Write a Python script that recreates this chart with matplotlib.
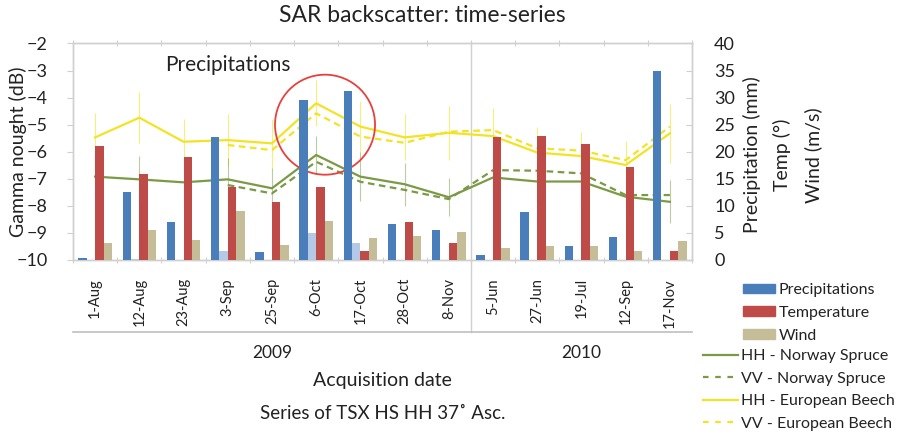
import matplotlib
matplotlib.use("Agg")
import matplotlib.pyplot as plt
from matplotlib.patches import Patch, Ellipse
from matplotlib.lines import Line2D
import matplotlib.transforms as mtransforms
import numpy as np

plt.rcParams['font.family'] = ['Lato', 'DejaVu Sans']

# Acquisition dates
dates = ["1-Aug", "12-Aug", "23-Aug", "3-Sep", "25-Sep", "6-Oct", "17-Oct", "28-Oct",
         "8-Nov", "5-Jun", "27-Jun", "19-Jul", "12-Sep", "17-Nov"]
years = ["2009", "2010"]
n_2009 = 9

# Meteo (right axis)
precip = [0.3, 12.5, 7.0, 22.7, 1.5, 29.6, 31.3, 6.6, 5.6, 0.9, 8.9, 2.5, 4.3, 34.9]
precip_extra = [0, 0.2, 0, 1.75, 0, 4.9, 3.1, 0, 0, 0, 0, 0, 0, 0]
temperature = [21.1, 15.85, 19.0, 13.4, 10.75, 13.4, 1.6, 7.1, 3.2, 22.8, 22.9, 21.5, 17.2, 1.7]
wind = [3.1, 5.5, 3.65, 9.1, 2.75, 7.15, 4.0, 4.4, 5.2, 2.3, 2.65, 2.6, 1.65, 3.5]

# Backscatter (left axis, dB)
hh_spruce = [-6.92, -7.02, -7.13, -7.02, -7.35, -6.12, -6.92, -7.20, -7.68, -6.95, -7.10, -7.10, -7.66, -7.85]
vv_spruce = [np.nan, np.nan, np.nan, -7.23, -7.54, -6.37, -7.11, -7.41, -7.75, -6.68, -6.70, -6.80, -7.60, -7.60]
hh_beech = [-5.47, -4.74, -5.63, -5.57, -5.69, -4.21, -5.07, -5.47, -5.30, -5.42, -6.03, -6.16, -6.49, -5.32]
vv_beech = [np.nan, np.nan, np.nan, -5.75, -5.94, -4.58, -5.44, -5.67, -5.26, -5.20, -5.87, -5.96, -6.31, -5.07]
spruce_err = [0.8, 0.85, 0.8, 0.8, 0.75, 0.7, 0.9, 0.8, 0.7, 0.8, 0.75, 0.8, 0.7, 0.8]
beech_err = [0.9, 0.95, 0.85, 0.95, 0.9, 0.85, 0.95, 0.85, 1.0, 1.05, 0.95, 0.9, 0.9, 1.1]

C_BLUE = "#4a7ebb"
C_LBLUE = "#b4c9e6"
C_RED = "#be4b48"
C_TAN = "#c4bd97"
C_GREEN = "#7a9a45"
C_YELLOW = "#f2e424"
C_AXIS = "#d0d0d0"
C_TEXT = "#222222"

W, H = 898, 436
fig = plt.figure(figsize=(W / 100, H / 100), dpi=100)
x0, x1, ytop, ybot = 73, 692, 43.5, 260
ax = fig.add_axes([x0 / W, 1 - ybot / H, (x1 - x0) / W, (ybot - ytop) / H])
ax2 = ax.twinx()

x = np.arange(len(dates))

# Backscatter lines with error bars
ax.errorbar(x, hh_beech, yerr=beech_err, fmt="none", ecolor=C_YELLOW, elinewidth=0.8,
            alpha=0.6, capsize=0, zorder=1)
ax.errorbar(x, hh_spruce, yerr=spruce_err, fmt="none", ecolor=C_GREEN, elinewidth=0.8,
            alpha=0.5, capsize=0, zorder=1)
ax.plot(x, hh_spruce, color=C_GREEN, lw=1.6, zorder=2)
ax.plot(x, vv_spruce, color=C_GREEN, lw=1.6, ls=(0, (3, 2)), zorder=2)
ax.plot(x, hh_beech, color=C_YELLOW, lw=1.6, zorder=2)
ax.plot(x, vv_beech, color=C_YELLOW, lw=1.6, ls=(0, (3, 2)), zorder=2)

ax.set_xlim(-0.5, len(dates) - 0.5)
ax.set_ylim(-10, -2)
ax.set_yticks(np.arange(-10, -1, 1))

# Meteo bars
bw = 0.19
ax2.bar(x - 1.5 * bw, precip, width=bw, color=C_BLUE, zorder=3)
ax2.bar(x - 0.5 * bw, precip_extra, width=bw, color=C_LBLUE, zorder=3)
ax2.bar(x + 0.5 * bw, temperature, width=bw, color=C_RED, zorder=3)
ax2.bar(x + 1.5 * bw, wind, width=bw, color=C_TAN, zorder=3)
ax2.set_ylim(0, 40)
ax2.set_yticks(np.arange(0, 41, 5))

for a in (ax, ax2):
    for s in a.spines.values():
        s.set_color(C_AXIS)
        s.set_linewidth(1.0)
ax.tick_params(axis="y", length=4, color=C_AXIS, labelsize=13, labelcolor=C_TEXT, pad=14)
ax2.tick_params(axis="y", length=4, direction="in", color=C_AXIS, labelsize=13,
                labelcolor=C_TEXT, pad=16)

# category boundaries as ticks, labels at centres
ax.set_xticks(np.arange(-0.5, len(dates), 1))
ax.set_xticklabels([])
ax.tick_params(axis="x", which="major", length=4, color=C_AXIS, top=True, direction="inout")
ax.set_xticks(x, minor=True)
ax.set_xticklabels(dates, minor=True, rotation=90, fontsize=10.5, color=C_TEXT)
ax.tick_params(axis="x", which="minor", length=0, pad=13)

# year divider and lower bracket
trans = mtransforms.blended_transform_factory(ax.transData, ax.transAxes)
low = -(332 - ybot) / (ybot - ytop)
ax.add_line(Line2D([n_2009 - 0.5] * 2, [low, 1], transform=trans, color=C_AXIS, lw=1.0,
                   clip_on=False, zorder=0))
ax.add_line(Line2D([-0.5, len(dates) - 0.5], [low, low], transform=trans, color="#bfbfbf",
                   lw=1.2, clip_on=False))
ax.text((n_2009 - 1) / 2, -(353 - ybot) / (ybot - ytop), years[0], transform=trans,
        ha="center", va="center", fontsize=12.5, color=C_TEXT)
ax.text((n_2009 + len(dates) - 1) / 2, -(353 - ybot) / (ybot - ytop), years[1], transform=trans,
        ha="center", va="center", fontsize=12.5, color=C_TEXT)

# labels
fig.text(0.5 * (x0 + x1) / W, 1 - 380 / H, "Acquisition date", ha="center", va="center",
         fontsize=14, color=C_TEXT)
fig.text(0.5 * (x0 + x1) / W, 1 - 413 / H, "Series of TSX HS HH 37˚ Asc.", ha="center",
         va="center", fontsize=13.5, color=C_TEXT)
fig.text(422 / W, 1 - 16 / H, "SAR backscatter: time-series", ha="center", va="center",
         fontsize=16.5, color=C_TEXT)
fig.text(18 / W, 1 - 152 / H, "Gamma nought (dB)", rotation=90, ha="center", va="center",
         fontsize=14, color=C_TEXT)
for xp, lab in [(752, "Precipitation (mm)"), (782, "Temp (°)"), (813, "Wind (m/s)")]:
    fig.text(xp / W, 1 - 155 / H, lab, rotation=90, ha="center", va="center", fontsize=14,
             color=C_TEXT)

# annotation
ax.text(3.0, -2.8, "Precipitations", ha="center", va="center", fontsize=15, color=C_TEXT)
ax.add_patch(Ellipse((5.2, -5.0), width=100 / 44.2, height=100 / 27.06, fill=False,
                     edgecolor="#e8403a", lw=1.3, zorder=5))

# legends
bar_handles = [Patch(color=C_BLUE), Patch(color=C_RED), Patch(color=C_TAN)]
leg1 = fig.legend(bar_handles, ["Precipitations", "Temperature", "Wind"], loc="upper left",
                  bbox_to_anchor=(743 / W, 1 - 283 / H), frameon=False, fontsize=11.5,
                  handlelength=2.0, handleheight=0.55, handletextpad=0.25, labelspacing=0.56,
                  borderpad=0, borderaxespad=0)
line_handles = [Line2D([], [], color=C_GREEN, lw=1.6),
                Line2D([], [], color=C_GREEN, lw=1.6, ls=(0, (2.5, 3))),
                Line2D([], [], color=C_YELLOW, lw=1.6),
                Line2D([], [], color=C_YELLOW, lw=1.6, ls=(0, (2.5, 3)))]
leg2 = fig.legend(line_handles, ["HH - Norway Spruce", "VV - Norway Spruce",
                                 "HH - European Beech", "VV - European Beech"],
                  loc="upper left", bbox_to_anchor=(703 / W, 1 - 349 / H), frameon=False,
                  fontsize=11.5, handlelength=2.2, handletextpad=0.2, labelspacing=0.52,
                  borderpad=0, borderaxespad=0)
for lg in (leg1, leg2):
    for t in lg.get_texts():
        t.set_color(C_TEXT)

fig.savefig("out.png", dpi=100)
